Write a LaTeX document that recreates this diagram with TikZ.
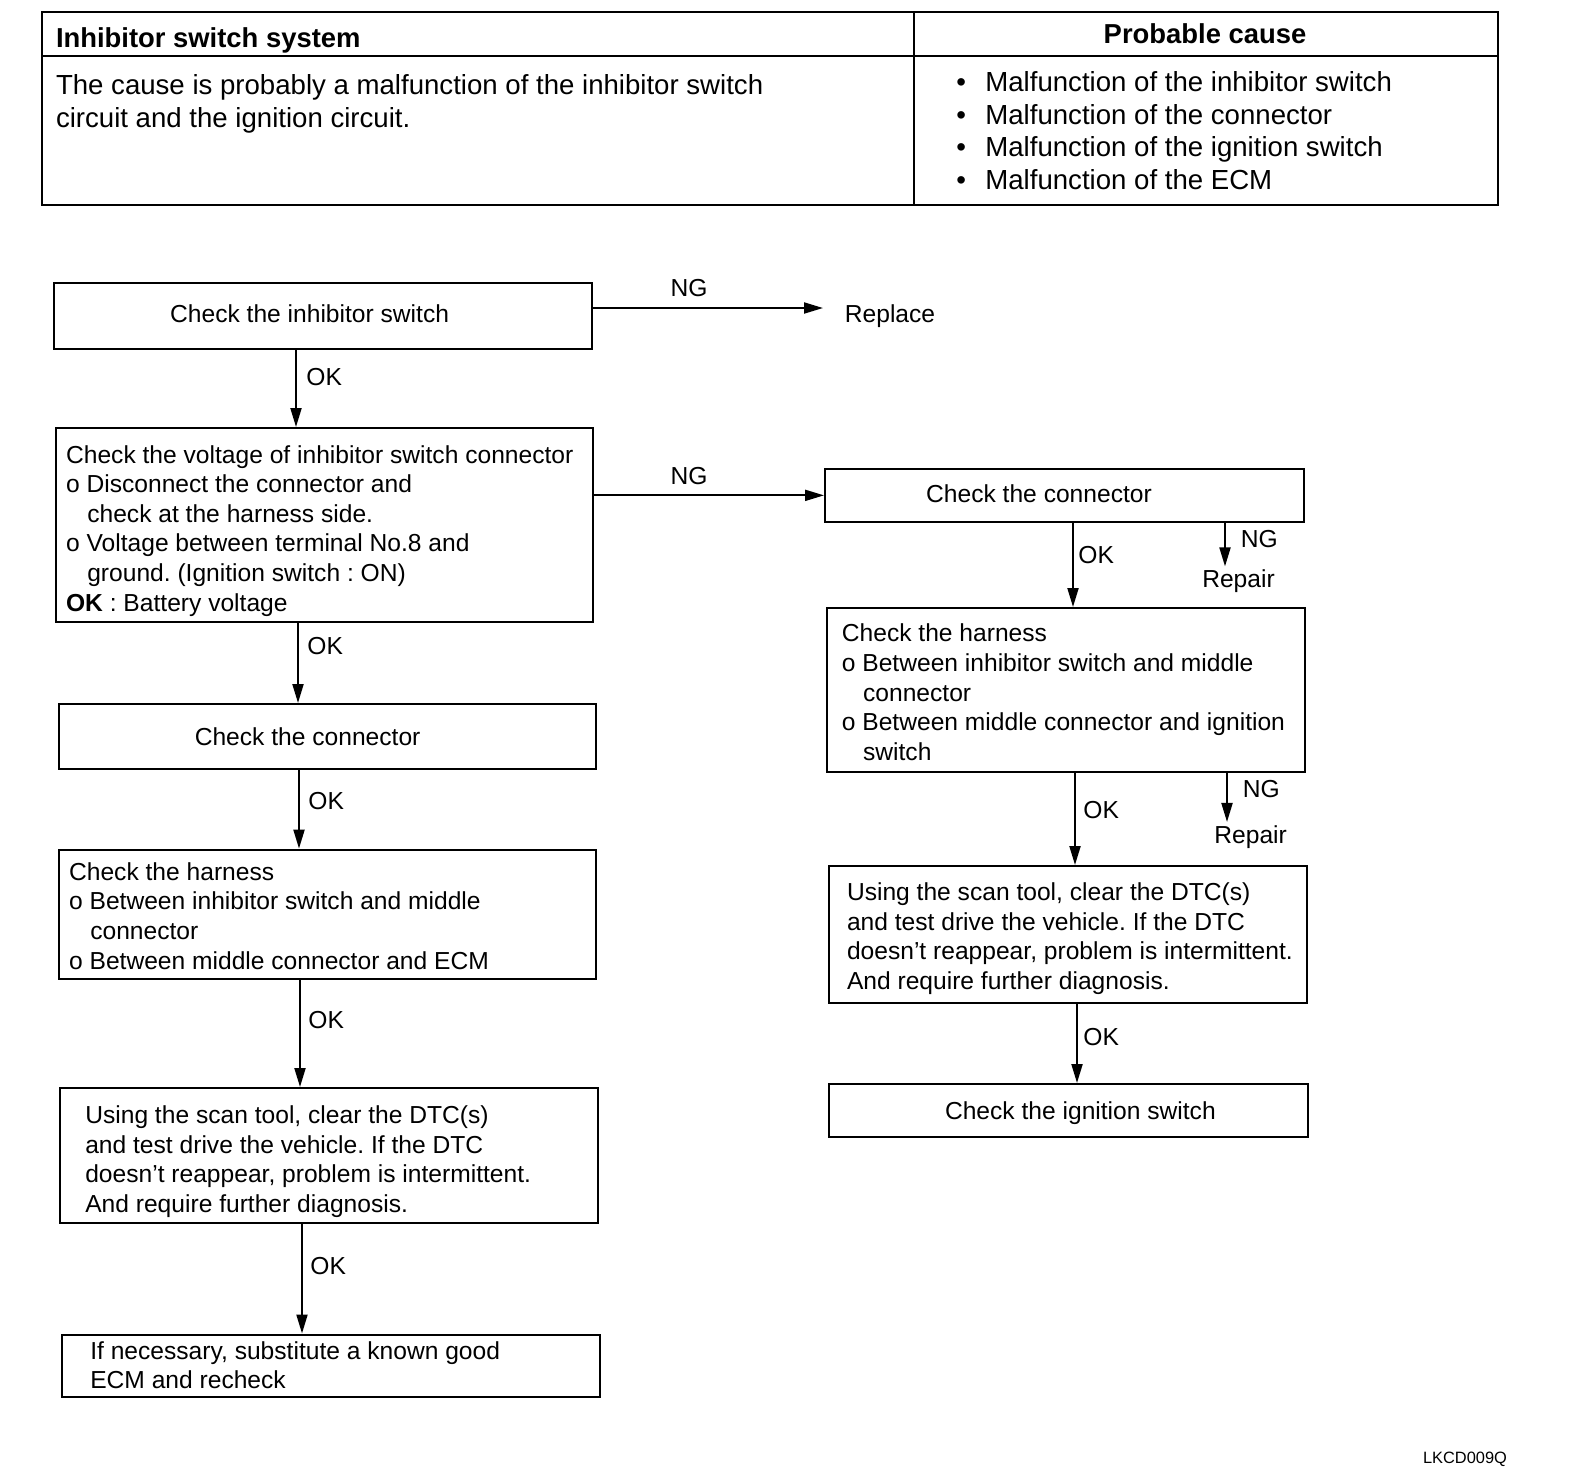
\documentclass[tikz,border=0pt]{standalone}
\usepackage{fontspec}
\setmainfont{Liberation Sans}
\usetikzlibrary{arrows.meta}
\newcommand\bul{\makebox[14.5pt][l]{•}}
\newcommand\ind{\hspace*{10.6pt}}
\frenchspacing
\begin{document}
\frenchspacing
\begin{tikzpicture}[x=0.5pt,y=-0.5pt,
  box/.style={draw, line width=1pt, inner sep=0pt, anchor=north west},
  txt/.style={inner sep=0pt, font=\fontsize{12.3}{14.8}\selectfont, align=left, anchor=north west},
  lbl/.style={inner sep=0pt, font=\fontsize{12.3}{14.8}\selectfont},
  hdr/.style={inner sep=0pt, font=\bfseries\fontsize{13.7}{16}\selectfont},
  tbody/.style={inner sep=0pt, font=\fontsize{13.8}{16.65}\selectfont, align=left, anchor=north west},
  tbul/.style={inner sep=0pt, font=\fontsize{13.8}{16.3}\selectfont, align=left, anchor=north west},
  tbl/.style={line width=1pt},
  arr/.style={line width=1pt, -{Triangle[length=9.5pt,width=5.5pt]}},
]
\useasboundingbox[fill=white] (0,0) rectangle (1584,1472);

% ---------- table ----------
\draw[tbl] (42.4,12.1) rectangle (1498,205);
\draw[tbl] (42.4,56) -- (1498,56);
\draw[tbl] (914,12.1) -- (914,205);
\node[hdr, anchor=base west] (th1) at (55.6,47.2) {Inhibitor switch system};
\node[hdr, anchor=base] (th2) at (1205,43.3) {Probable cause};
\node[tbody] (tb1) at (55.6,74) {The cause is probably a malfunction of the inhibitor switch\\circuit and the ignition circuit.};
\node[tbul] (tb2) at (956,71) {\bul Malfunction of the inhibitor switch\\\bul Malfunction of the connector\\\bul Malfunction of the ignition switch\\\bul Malfunction of the ECM};

% ---------- left column boxes ----------
\node[box, minimum width=269pt, minimum height=32.75pt] (b1) at (53,282) {};
\node[lbl, anchor=base] (t1) at (309.6,322) {Check the inhibitor switch};

\node[box, minimum width=268.5pt, minimum height=97pt] (b2) at (55,427) {};
\node[txt] (t2) at (65.7,444.8) {Check the voltage of inhibitor switch connector\\o Disconnect the connector and\\\ind check at the harness side.\\o Voltage between terminal No.8 and\\\ind ground. (Ignition switch : ON)\\\textbf{OK} : Battery voltage};

\node[box, minimum width=268.7pt, minimum height=32.5pt] (b3) at (57.6,703) {};
\node[lbl, anchor=base] (t3) at (307.6,745.2) {Check the connector};

\node[box, minimum width=268.7pt, minimum height=64.7pt] (b4) at (57.6,848.6) {};
\node[txt] (t4) at (68.7,862) {Check the harness\\o Between inhibitor switch and middle\\\ind connector\\o Between middle connector and ECM};

\node[box, minimum width=269.2pt, minimum height=67.5pt] (b5) at (58.6,1087) {};
\node[txt] (t5) at (84.9,1105.5) {Using the scan tool, clear the DTC(s)\\and test drive the vehicle. If the DTC\\doesn't reappear, problem is intermittent.\\And require further diagnosis.};

\node[box, minimum width=269.2pt, minimum height=31.25pt] (b6) at (60.6,1333.5) {};
\node[txt] (t6) at (89.9,1340.8) {If necessary, substitute a known good\\ECM and recheck};

% ---------- right column boxes ----------
\node[box, minimum width=239.5pt, minimum height=26.65pt] (r1) at (824,467.7) {};
\node[lbl, anchor=base] (tr1) at (1039,502.8) {Check the connector};

\node[box, minimum width=239pt, minimum height=82pt] (r2) at (826,607) {};
\node[txt] (tr2) at (841.5,623.6) {Check the harness\\o Between inhibitor switch and middle\\\ind connector\\o Between middle connector and ignition\\\ind switch};

\node[box, minimum width=239pt, minimum height=68.5pt] (r3) at (828,865) {};
\node[txt] (tr3) at (846.6,882.2) {Using the scan tool, clear the DTC(s)\\and test drive the vehicle. If the DTC\\doesn't reappear, problem is intermittent.\\And require further diagnosis.};

\node[box, minimum width=239.5pt, minimum height=26.25pt] (r4) at (828,1083) {};
\node[lbl, anchor=base] (tr4) at (1080.4,1119) {Check the ignition switch};

% ---------- end texts ----------
\node[lbl, anchor=base west] (rep) at (844.5,322.8) {Replace};
\node[lbl, anchor=base, inner sep=1.5pt] (rp1) at (1238.5,587.6) {Repair};
\node[lbl, anchor=base, inner sep=1.5pt] (rp2) at (1250.6,843.2) {Repair};

% ---------- connectors ----------
\draw[arr] (b1.east |- 0,308) -- ([xshift=-10.75pt]rep.west |- 0,308);
\node[lbl, anchor=base] (ng1) at (689,296.8) {NG};

\draw[arr] (b2.east |- r1.west) -- (r1.west);
\node[lbl, anchor=base] (ng2) at (689,484.8) {NG};

\draw[arr] (296,0 |- b1.south) -- (296,0 |- b2.north);
\node[lbl, anchor=base west] (ok1) at (306,385.6) {OK};
\draw[arr] (298,0 |- b2.south) -- (298,0 |- b3.north);
\node[lbl, anchor=base west] (ok2) at (307,654.3) {OK};
\draw[arr] (299,0 |- b3.south) -- (299,0 |- b4.north);
\node[lbl, anchor=base west] (ok3) at (308,809.9) {OK};
\draw[arr] (300,0 |- b4.south) -- (300,0 |- b5.north);
\node[lbl, anchor=base west] (ok4) at (308,1028) {OK};
\draw[arr] (302,0 |- b5.south) -- (302,0 |- b6.north);
\node[lbl, anchor=base west] (ok5) at (310,1274.6) {OK};

\draw[arr] (1073,0 |- r1.south) -- (1073,0 |- r2.north);
\node[lbl, anchor=base west] (ok6) at (1078,563.4) {OK};
\draw[arr] (1225,0 |- r1.south) -- (1225,0 |- rp1.north);
\node[lbl, anchor=base west] (ng3) at (1240.5,547.2) {NG};

\draw[arr] (1075,0 |- r2.south) -- (1075,0 |- r3.north);
\node[lbl, anchor=base west] (ok7) at (1083,818.8) {OK};
\draw[arr] (1227,0 |- r2.south) -- (1227,0 |- rp2.north);
\node[lbl, anchor=base west] (ng4) at (1242.5,797.8) {NG};

\draw[arr] (1077,0 |- r3.south) -- (1077,0 |- r4.north);
\node[lbl, anchor=base west] (ok8) at (1083,1045.3) {OK};

\node[inner sep=0pt, font=\fontsize{8.2}{10}\selectfont, anchor=base] (code) at (1465,1463) {LKCD009Q};
\end{tikzpicture}
\end{document}
